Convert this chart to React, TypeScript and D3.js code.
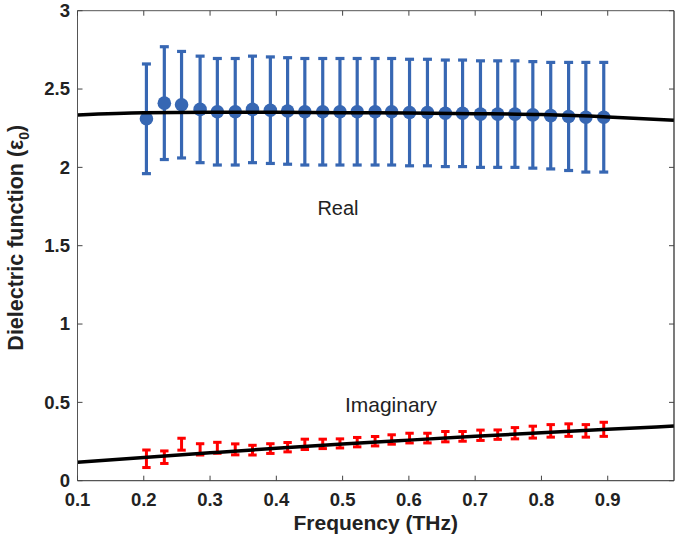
import React from "react";
import * as d3 from "d3";

const freqs = [0.204, 0.231, 0.257, 0.285, 0.311, 0.338, 0.364, 0.391, 0.417, 0.443, 0.470, 0.496, 0.522, 0.549, 0.574, 0.601, 0.628, 0.655, 0.681, 0.708, 0.734, 0.760, 0.787, 0.814, 0.841, 0.867, 0.894];
const realVals = [2.31, 2.41, 2.40, 2.37, 2.355, 2.355, 2.37, 2.365, 2.36, 2.355, 2.355, 2.355, 2.355, 2.355, 2.355, 2.35, 2.35, 2.345, 2.345, 2.34, 2.34, 2.34, 2.335, 2.33, 2.325, 2.32, 2.32];
const realErr = [0.35, 0.36, 0.34, 0.34, 0.34, 0.34, 0.34, 0.34, 0.34, 0.34, 0.34, 0.34, 0.34, 0.34, 0.34, 0.34, 0.34, 0.34, 0.34, 0.34, 0.34, 0.34, 0.34, 0.34, 0.345, 0.35, 0.35];
const imagVals = [0.14, 0.15, 0.233, 0.2, 0.21, 0.2, 0.195, 0.205, 0.214, 0.232, 0.235, 0.238, 0.246, 0.252, 0.263, 0.272, 0.272, 0.281, 0.283, 0.29, 0.294, 0.303, 0.31, 0.318, 0.323, 0.318, 0.328];
const imagErr = [0.056, 0.04, 0.038, 0.036, 0.035, 0.035, 0.031, 0.031, 0.03, 0.033, 0.03, 0.029, 0.03, 0.03, 0.03, 0.031, 0.031, 0.033, 0.031, 0.033, 0.03, 0.036, 0.038, 0.04, 0.04, 0.04, 0.045];

const modelFreq = [0.1, 0.2, 0.3, 0.4, 0.5, 0.6, 0.7, 0.8, 0.9, 1.0];
const modelReal = [2.335, 2.348, 2.352, 2.352, 2.349, 2.347, 2.343, 2.337, 2.322, 2.30];
const modelImag = [0.117, 0.148, 0.178, 0.207, 0.234, 0.259, 0.283, 0.306, 0.328, 0.349];

const xTicks = [0.1, 0.2, 0.3, 0.4, 0.5, 0.6, 0.7, 0.8, 0.9];
const yTicks = [0, 0.5, 1, 1.5, 2, 2.5, 3];

const W = 675, H = 537;
const L = 77.5, R = 674, T = 10.7, B = 480.7;
const BLUE = "#3767b3";
const FONT = "'Liberation Sans', Arial, Helvetica, sans-serif";

export default function App() {
  const x = d3.scaleLinear().domain([0.1, 1.0]).range([L, R]);
  const y = d3.scaleLinear().domain([0, 3]).range([B, T]);
  const line = d3.line<number>().curve(d3.curveMonotoneX);
  const realPath = line(modelFreq.map((f, i) => [x(f), y(modelReal[i])] as [number, number]));
  const imagPath = line(modelFreq.map((f, i) => [x(f), y(modelImag[i])] as [number, number]));
  const tickLen = 5;
  return (
    <svg width={W} height={H} style={{ position: "absolute", left: 0, top: 0, background: "#fff" }} fontFamily={FONT}>
      <rect x={0} y={0} width={W} height={H} fill="#fff" />
      {freqs.map((f, i) => {
        const cx = x(f);
        const y1 = y(realVals[i] + realErr[i]);
        const y2 = y(realVals[i] - realErr[i]);
        return (
          <g key={"r" + i} stroke={BLUE} strokeWidth={3.2}>
            <line x1={cx} x2={cx} y1={y1} y2={y2} />
            <line x1={cx - 4.5} x2={cx + 4.5} y1={y1} y2={y1} />
            <line x1={cx - 4.5} x2={cx + 4.5} y1={y2} y2={y2} />
          </g>
        );
      })}
      {freqs.map((f, i) => (
        <circle key={"c" + i} cx={x(f)} cy={y(realVals[i])} r={6.8} fill={BLUE} />
      ))}
      {freqs.map((f, i) => {
        const cx = x(f);
        const y1 = y(imagVals[i] + imagErr[i]);
        const y2 = y(imagVals[i] - imagErr[i]);
        return (
          <g key={"i" + i} stroke="#ff0000" strokeWidth={3}>
            <line x1={cx} x2={cx} y1={y1} y2={y2} />
            <line x1={cx - 4.2} x2={cx + 4.2} y1={y1} y2={y1} />
            <line x1={cx - 4.2} x2={cx + 4.2} y1={y2} y2={y2} />
          </g>
        );
      })}
      <path d={realPath || ""} fill="none" stroke="#000" strokeWidth={3.5} />
      <path d={imagPath || ""} fill="none" stroke="#000" strokeWidth={3.5} />
      <line x1={L} x2={R} y1={T} y2={T} stroke="#555" strokeWidth={1} />
      <line x1={L} x2={L} y1={T} y2={B} stroke="#555" strokeWidth={1} />
      <line x1={L} x2={R} y1={B} y2={B} stroke="#555" strokeWidth={1.2} />
      <line x1={R} x2={R} y1={T} y2={B} stroke="#222" strokeWidth={1.2} />
      {xTicks.map((t) => (
        <g key={"xt" + t}>
          <line x1={x(t)} x2={x(t)} y1={B} y2={B - tickLen} stroke="#444" />
          <line x1={x(t)} x2={x(t)} y1={T} y2={T + tickLen} stroke="#444" />
          <text x={x(t)} y={506} textAnchor="middle" fontSize={18.5} fontWeight="bold" fill="#222">{t.toFixed(1)}</text>
        </g>
      ))}
      {yTicks.map((t) => (
        <g key={"yt" + t}>
          <line x1={L} x2={L + tickLen} y1={y(t)} y2={y(t)} stroke="#444" />
          <line x1={R} x2={R - tickLen} y1={y(t)} y2={y(t)} stroke="#444" />
          <text x={70} y={y(t)} dy="0.34em" textAnchor="end" fontSize={18.5} fontWeight="bold" fill="#222">{String(t)}</text>
        </g>
      ))}
      <text x={(L + R) / 2} y={530} textAnchor="middle" fontSize={21} fontWeight="bold" fill="#222">Frequency (THz)</text>
      <text transform={`translate(23, ${(T + B) / 2 - 8}) rotate(-90)`} textAnchor="middle" fontSize={21.5} fontWeight="bold" fill="#222">
        Dielectric function (ε<tspan dy="6" fontSize={14}>0</tspan><tspan dy="-6">)</tspan>
      </text>
      <text x={338} y={215} textAnchor="middle" fontSize={20} fill="#222">Real</text>
      <text x={391} y={412} textAnchor="middle" fontSize={21} fill="#222">Imaginary</text>
    </svg>
  );
}
